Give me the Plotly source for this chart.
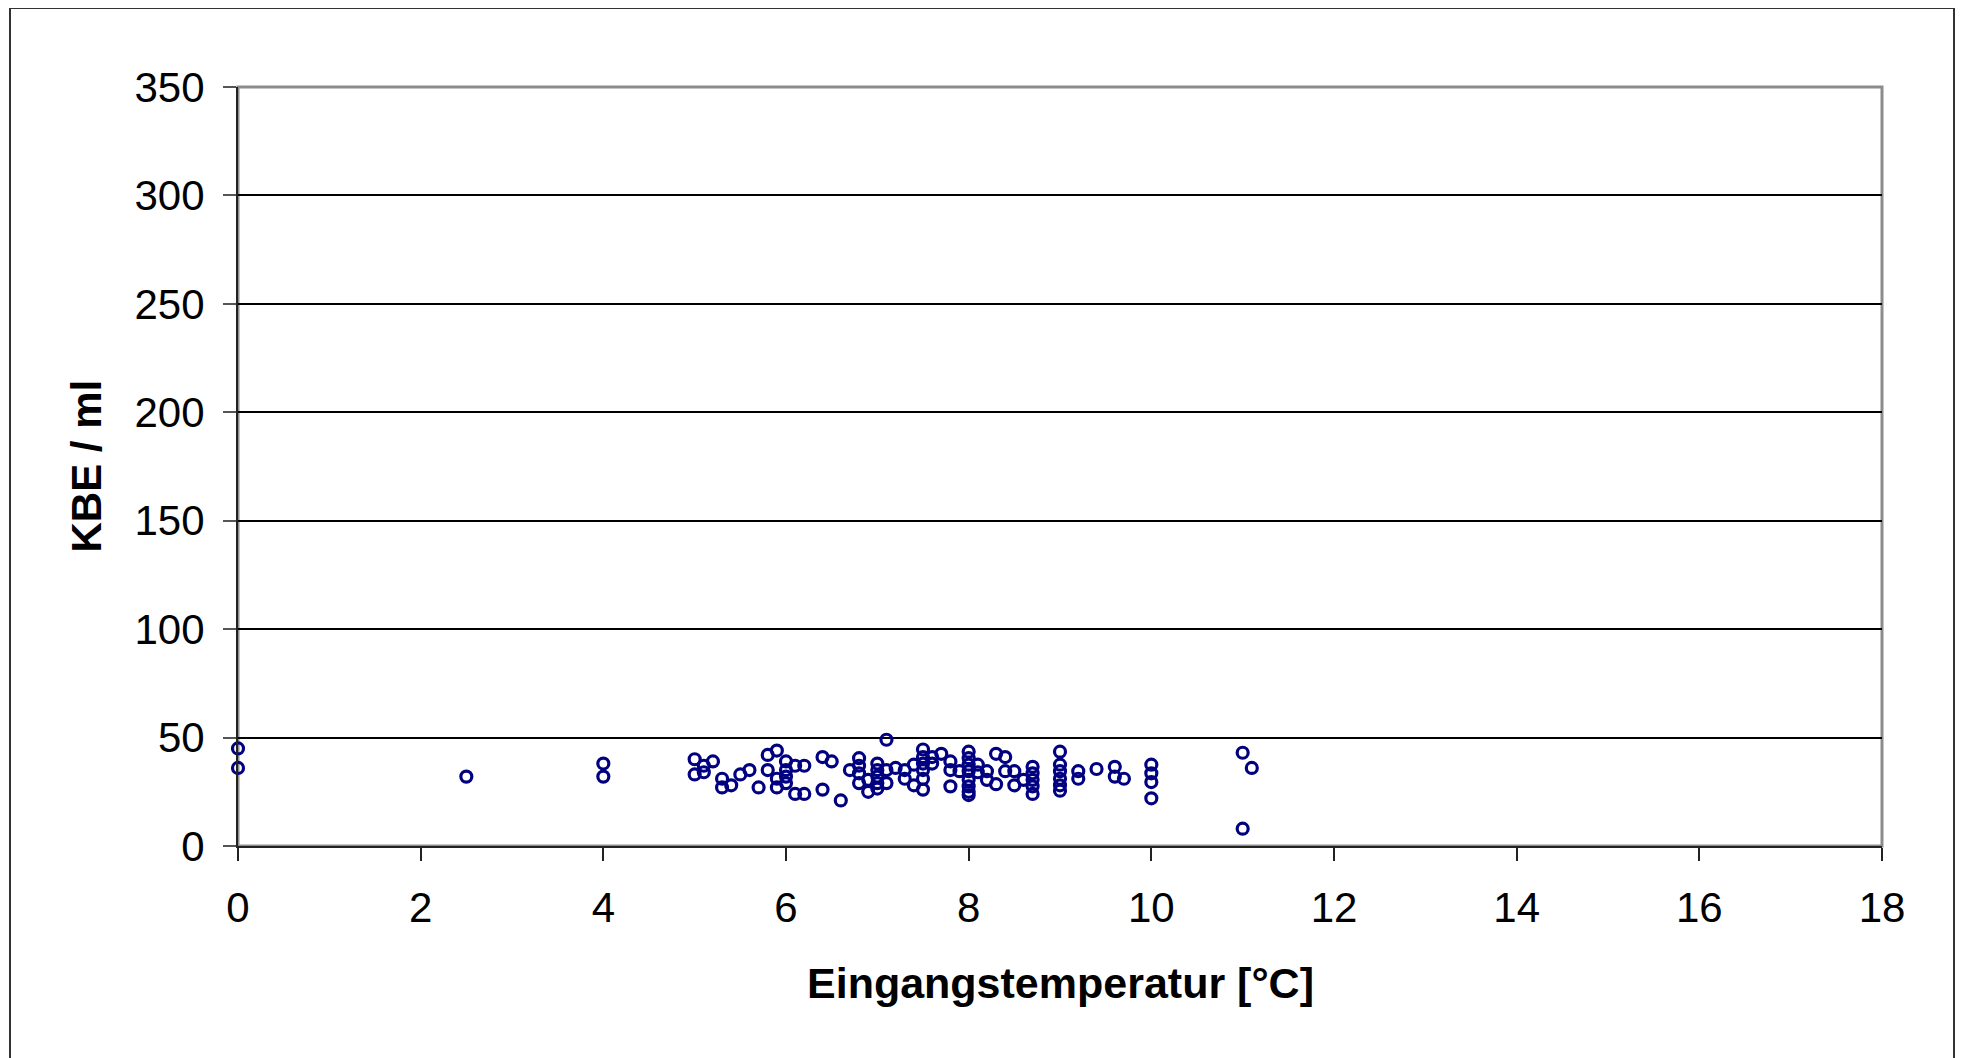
import plotly.graph_objects as go

# Eingangstemperatur [°C]
temp = [0, 0, 2.5, 4, 4, 5, 5, 5.1, 5.1, 5.2, 5.3, 5.3, 5.4, 5.5, 5.6, 5.7,
        5.8, 5.8, 5.9, 5.9, 5.9, 6.0, 6.0, 6.0, 6.0, 6.1, 6.1, 6.2, 6.2,
        6.4, 6.4, 6.5, 6.6, 6.7, 6.8, 6.8, 6.8, 6.8, 6.9, 6.9,
        7.0, 7.0, 7.0, 7.0, 7.0, 7.1, 7.1, 7.1, 7.2, 7.3, 7.3, 7.4, 7.4,
        7.5, 7.5, 7.5, 7.5, 7.5, 7.5, 7.6, 7.6, 7.7, 7.8, 7.8, 7.8, 7.9,
        8.0, 8.0, 8.0, 8.0, 8.0, 8.0, 8.0, 8.0, 8.1, 8.1, 8.2, 8.2,
        8.3, 8.3, 8.4, 8.4, 8.5, 8.5, 8.6, 8.7, 8.7, 8.7, 8.7, 8.7,
        9.0, 9.0, 9.0, 9.0, 9.0, 9.0, 9.2, 9.2, 9.4, 9.6, 9.6, 9.7,
        10, 10, 10, 10, 11, 11, 11.1]
# KBE / ml
kbe = [45, 36, 32, 38, 32, 40, 33, 37, 34, 39, 31, 27, 28, 33, 35, 27,
       42, 35, 44, 31, 27, 39, 35, 32, 29, 37, 24, 37, 24,
       41, 26, 39, 21, 35, 40.5, 37, 33.5, 29, 30.5, 25,
       38, 35, 32, 29, 26.5, 49, 35, 29, 36, 35, 31, 37.5, 28,
       44.5, 41, 38, 35, 31, 26, 41, 38, 42.5, 39, 35, 27.5, 34.5,
       43.5, 40.5, 37.5, 34.5, 30.5, 27.5, 25, 23.5, 37.5, 34, 34.5, 30.5,
       42.5, 28.5, 41, 34.5, 34.5, 28, 30.5, 36.5, 33.5, 30.5, 27.5, 24,
       43.5, 37.5, 34.5, 31, 28, 25.5, 34.5, 31, 35.5, 36.5, 32, 31,
       37.5, 33.5, 29.5, 22, 43, 8, 36]

x_ticks = [0, 2, 4, 6, 8, 10, 12, 14, 16, 18]
y_ticks = [0, 50, 100, 150, 200, 250, 300, 350]

OFF = 8  # page body margin
W, H = 1963 - 2 * OFF, 1058 - OFF
PLOT_L, PLOT_R, PLOT_T, PLOT_B = 238, 1882, 87, 846  # in screenshot pixels
L, T = PLOT_L - OFF, PLOT_T - OFF
R, B = W - (PLOT_R - OFF), H - (PLOT_B - OFF)
PW, PH = W - L - R, H - T - B

def px(xp):
    return (xp - OFF - L) / PW

def py(yp):
    return (PLOT_B - yp) / PH

fig = go.Figure()
fig.add_trace(go.Scatter(
    x=temp, y=kbe, mode="markers",
    marker=dict(symbol="circle-open", size=11, color="#000080",
                line=dict(width=3.2, color="#000080")),
    showlegend=False, cliponaxis=False,
))

font_family = "Liberation Sans, Arial, sans-serif"

fig.update_layout(
    width=W, height=H,
    margin=dict(l=L, r=R, t=T, b=B, pad=0),
    paper_bgcolor="white", plot_bgcolor="white",
    font=dict(family=font_family, size=42, color="black"),
    xaxis=dict(range=[0, 18], tickvals=x_ticks, ticktext=[str(v) for v in x_ticks],
               showgrid=False, zeroline=False, showline=True, linecolor="#222222",
               linewidth=2, ticks="outside", ticklen=13, tickwidth=1.5,
               tickcolor="#222222", ticklabelstandoff=11,
               tickfont=dict(size=42, family=font_family)),
    yaxis=dict(range=[0, 350], tickvals=y_ticks, ticktext=[str(v) for v in y_ticks],
               showgrid=True, gridcolor="black", gridwidth=1.5, zeroline=False,
               showline=True, linecolor="#222222", linewidth=2, ticks="outside",
               ticklen=13, tickwidth=1.5, tickcolor="#555555", ticklabelstandoff=10,
               tickfont=dict(size=42, family=font_family)),
    shapes=[
        # plot-area border (gray)
        dict(type="rect", xref="paper", yref="paper", x0=0, x1=1, y0=0, y1=1,
             line=dict(color="#8c8c8c", width=3), layer="below"),
        # outer chart border
        dict(type="rect", xref="paper", yref="paper",
             x0=px(10), x1=px(1954), y0=py(1075), y1=py(8),
             line=dict(color="#333333", width=2)),
    ],
    annotations=[
        dict(text="<b>Eingangstemperatur [°C]</b>", xref="paper", yref="paper",
             x=px(1060), y=py(983), xanchor="center", yanchor="middle",
             showarrow=False, font=dict(size=43, family=font_family, color="black")),
        dict(text="<b>KBE / ml</b>", xref="paper", yref="paper",
             x=px(86), y=0.5, xanchor="center", yanchor="middle", textangle=-90,
             showarrow=False, font=dict(size=42, family=font_family, color="black")),
    ],
)

fig.write_html("out.html")
